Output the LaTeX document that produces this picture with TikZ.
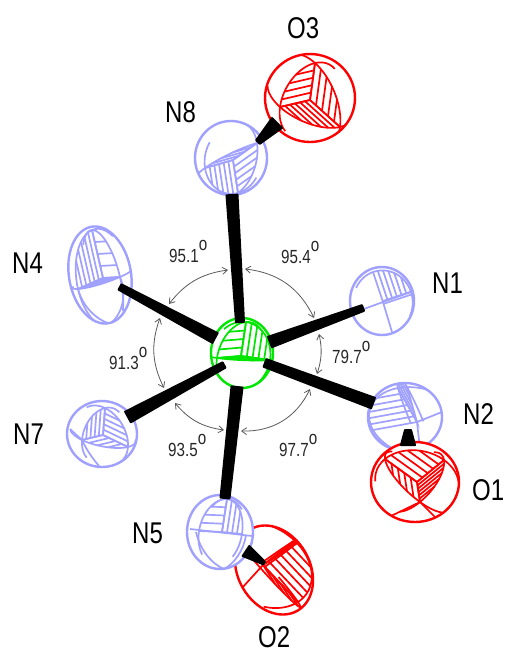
\documentclass[tikz,border=0pt]{standalone}
\usepackage{fontspec}
\usepackage{tikz}
\usetikzlibrary{calc,arrows.meta}
\newfontfamily\labfont[FakeStretch=0.8]{Liberation Sans}
\definecolor{atomN}{RGB}{160,160,255}
\definecolor{atomO}{RGB}{255,0,0}
\definecolor{atomFe}{RGB}{0,230,0}
\tikzset{
  atomlab/.style={anchor=base west,inner sep=0pt,font=\labfont\fontsize{30}{30}\selectfont},
  anglab/.style={anchor=base west,inner sep=0pt,text=black!85,font=\labfont\fontsize{19}{19}\selectfont},
  angarc/.style={{Straight Barb[length=5pt,width=7pt]}-{Straight Barb[length=5pt,width=7pt]},black!65,line width=.8pt},
  enlace/.style={fill=black,draw=black,line width=2pt,line join=round},
  raya/.style={line width=1.7pt}
}
% contorno del atomo: centro (#1,#2), radios #3 y #4, giro #5
\newcommand{\contorno}[5]{
  \draw[line width=2.4pt,fill=white] (#1,#2) ellipse [x radius=#3,y radius=#4,rotate=#5];
  \clip (#1,#2) ellipse [x radius=#3,y radius=#4,rotate=#5];
}
% cuarto de elipse con rayado: a = (#2,#3), b = (#4,#5), #6 lineas
\newcommand{\octsec}[6][-45:135]{
  \draw[raya] plot[domain=#1,samples=25,smooth] ({cos(\x)*#2+sin(\x)*#4},{cos(\x)*#3+sin(\x)*#5});
  \draw[raya] (#2,#3) -- (0,0) -- (#4,#5);
  \ifnum#6>0
  \foreach \k in {1,...,#6}{
    \pgfmathsetmacro\hfr{\k/(#6+1)}
    \pgfmathsetmacro\sfr{sqrt(1-\hfr*\hfr)}
    \draw[raya] (\hfr*#4,\hfr*#5) -- (\hfr*#4+\sfr*#2,\hfr*#5+\sfr*#3);
  }
  \fi
}
\newcommand{\angval}[1]{#1\raisebox{.62em}{o}}
\begin{document}
\begin{tikzpicture}[x=1pt,y=-1pt]
  \useasboundingbox (0,0) rectangle (506,654);

  % Centros de los atomos
  \coordinate (O3) at (310,100);
  \coordinate (N8) at (233,160);
  \coordinate (N1) at (383,302);
  \coordinate (N4) at (103,278);
  \coordinate (N7) at (103,435);
  \coordinate (Fe) at (241,356);
  \coordinate (N2) at (417,422);
  \coordinate (O1) at (417,482);
  \coordinate (O2) at (263,565);
  \coordinate (N5) at (222,532);

  % Dibujar los atomos
  \begin{scope}[shift={(O3)},draw=atomO]
    \contorno{0}{-2}{45}{44}{0}
    \octsec{5}{-37}{30}{27}{4}
    \octsec{30}{27}{-30}{7}{5}
    \octsec{-30}{7}{5}{-37}{4}
  \end{scope}
  \begin{scope}[shift={(N8)},draw=atomN]
    \contorno{-2}{-2}{36}{37}{0}
    \octsec{24}{-17}{5}{33}{4}
    \octsec{5}{33}{-28}{8}{5}
    \octsec{-28}{8}{24}{-17}{3}
  \end{scope}
  \begin{scope}[shift={(N1)},draw=atomN]
    \contorno{-1}{-1}{32}{34}{0}
    \octsec{-10}{-30}{28}{-10}{5}
    \draw[raya] (-30,11) -- (0,0) -- (9,30);
    \draw[raya] (0,-1) -- (30,-11) (0,2) -- (30,-8);
  \end{scope}
  \begin{scope}[shift={(N4)},draw=atomN]
    \contorno{-3}{-3}{31}{49}{10}
    \octsec{-11}{-48}{-25}{11}{5}
    \octsec{17}{-1}{-11}{-48}{3}
    \octsec{-25}{11}{17}{-1}{3}
    \draw[raya] (-25,11) .. controls (-20,30) and (-5,42) .. (5,45);
    \draw[raya] (17,-1) .. controls (24,15) and (20,35) .. (8,45);
  \end{scope}
  \begin{scope}[shift={(N7)},draw=atomN]
    \contorno{-1}{-1}{35}{33}{0}
    \octsec{2}{-27}{-21}{5}{4}
    \octsec{25}{12}{2}{-27}{4}
    \octsec{-21}{5}{25}{12}{3}
    \draw[raya] (-21,5) .. controls (-15,18) and (-8,26) .. (-4,31);
    \draw[raya] (-21,5) -- (-33,-6);
  \end{scope}
  \begin{scope}[shift={(Fe)},draw=atomFe]
    \contorno{1}{-3}{31}{35}{0}
    \octsec{-24}{2}{5}{-34}{3}
    \octsec{5}{-34}{29}{4}{4}
    \octsec{29}{4}{-24}{2}{3}
  \end{scope}
  \begin{scope}[shift={(N2)},draw=atomN]
    \contorno{-12}{-5}{37}{34}{0}
    \octsec{-44}{8}{-19}{-34}{5}
    \octsec{-19}{-34}{-10}{-35}{3}
    \draw[raya] (0,0) -- (25,-10) (0,0) -- (3,27);
  \end{scope}
  \begin{scope}[shift={(O1)},draw=atomO]
    \contorno{-2}{0}{44}{40}{0}
    \octsec{-32}{-23}{27}{-22}{4}
    \octsec{27}{-22}{3}{20}{5}
    \octsec{3}{20}{-32}{-23}{4}
    \draw[raya] (3,20) -- (-26,34) (3,20) -- (20,37);
  \end{scope}
  \begin{scope}[shift={(O2)},draw=atomO]
    \contorno{11}{5}{36}{47}{30}
    \octsec{35}{37}{34}{-22}{5}
    \octsec{34}{-22}{32}{-25}{3}
    \octsec{13}{20}{35}{37}{3}
    \draw[raya] (0,0) -- (-21,23);
  \end{scope}
  \begin{scope}[shift={(N5)},draw=atomN]
    \contorno{-2}{0}{33}{37}{0}
    \octsec{-23}{-1}{5}{-33}{3}
    \octsec{5}{-33}{20}{2}{3}
    \draw[raya] (-32,-3) -- (30,4);
    \draw[raya] (-26,0) .. controls (-22,18) and (-10,32) .. (2,37);
    \draw[raya] (24,3) .. controls (22,18) and (12,32) .. (2,37);
  \end{scope}

  % Dibujar los enlaces (extremo a, semiancho, extremo b, semiancho)
  \foreach \bn/\xa/\ya/\wa/\xb/\yb/\wb in {
    e8/232/195/5.5/240/322/4, e1/270/342/5.5/363/308/3, e2/265/363/4/373/403/5.5,
    e4/215/338/5.5/120/287/3, e7/224/365/3/128/417/6, e5/237/387/5.5/225/498/4.5,
    o3/258/142/2.5/277/123/7, o1/408/430/3/408/445/7, o2/246/551/6/264/563/1.5}{
    \coordinate (\bn a) at (\xa,\ya);
    \coordinate (\bn b) at (\xb,\yb);
    \path[enlace] ($(\bn a)!\wa pt!90:(\bn b)$) -- ($(\bn a)!\wa pt!-90:(\bn b)$)
      -- ($(\bn b)!\wb pt!90:(\bn a)$) -- ($(\bn b)!\wb pt!-90:(\bn a)$) -- cycle;
  }

  % Dibujar los arcos de angulo
  \coordinate (a1i) at (169,304); \coordinate (a1f) at (228,270);
  \coordinate (a2i) at (245,269); \coordinate (a2f) at (314,318);
  \coordinate (a3i) at (319,334); \coordinate (a3f) at (317,374);
  \coordinate (a4i) at (310,389); \coordinate (a4f) at (241,431);
  \coordinate (a5i) at (224,430); \coordinate (a5f) at (175,403);
  \coordinate (a6i) at (164,388); \coordinate (a6f) at (160,318);
  \draw[angarc] (a1i) to[bend left=22] (a1f);
  \draw[angarc] (a2i) to[bend left=29] (a2f);
  \draw[angarc] (a3i) to[bend left=15] (a3f);
  \draw[angarc] (a4i) to[bend left=33] (a4f);
  \draw[angarc] (a5i) to[bend left=21] (a5f);
  \draw[angarc] (a6i) to[bend left=23] (a6f);

  % Dibujar etiquetas
  \node[atomlab] (labO3) at (287,38) {O3};
  \node[atomlab] (labN8) at (165,122) {N8};
  \node[atomlab] (labN4) at (12,273) {N4};
  \node[atomlab] (labN1) at (432,293) {N1};
  \node[atomlab] (labN2) at (463,424) {N2};
  \node[atomlab] (labO1) at (472,500) {O1};
  \node[atomlab] (labN7) at (13,444) {N7};
  \node[atomlab] (labN5) at (132,543) {N5};
  \node[atomlab] (labO2) at (258,647) {O2};
  \node[anglab] (ang1) at (169,262) {\angval{95.1}};
  \node[anglab] (ang2) at (281,263) {\angval{95.4}};
  \node[anglab] (ang3) at (332,363) {\angval{79.7}};
  \node[anglab] (ang4) at (279,456) {\angval{97.7}};
  \node[anglab] (ang5) at (168,456) {\angval{93.5}};
  \node[anglab] (ang6) at (109,369) {\angval{91.3}};
\end{tikzpicture}
\end{document}
